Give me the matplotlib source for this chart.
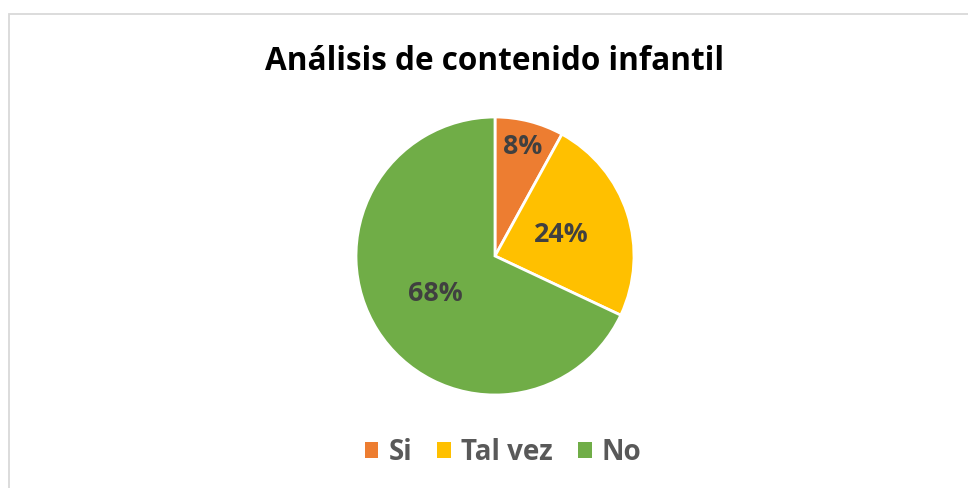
import matplotlib
matplotlib.use("Agg")
import matplotlib.pyplot as plt
from matplotlib.patches import Rectangle, Patch
import numpy as np

categories = ["Si", "Tal vez", "No"]
values = [8, 24, 68]
colors = ["#ED7D31", "#FFC000", "#70AD47"]
label_radius = [0.81, 0.50, 0.51]
title = "Análisis de contenido infantil"

W, H = 968, 488
fig = plt.figure(figsize=(W / 100, H / 100), dpi=100)
fig.patch.set_facecolor("white")

# chart border
fig.add_artist(Rectangle((8.5 / W, -0.1), 1.2, (H - 14.5) / H + 0.1,
                         transform=fig.transFigure, fill=False,
                         edgecolor="#D9D9D9", linewidth=1.3))

cx, cy, r = 495, 256, 139
ax = fig.add_axes([(cx - r) / W, (H - cy - r) / H, 2 * r / W, 2 * r / H])
wedges, _ = ax.pie(values, colors=colors, startangle=90, counterclock=False,
                   wedgeprops=dict(edgecolor="white", linewidth=2),
                   radius=1.0)
ax.set_xlim(-1, 1)
ax.set_ylim(-1, 1)
ax.set_aspect("equal")
ax.axis("off")

for w, v, lr in zip(wedges, values, label_radius):
    ang = np.deg2rad((w.theta1 + w.theta2) / 2)
    ax.text(lr * np.cos(ang), lr * np.sin(ang), f"{v}%", ha="center", va="center",
            fontsize=19.3, fontweight="bold", color="#404040", family="Open Sans")

fig.text(cx / W, 1 - 62 / H, title, ha="center", va="center",
         fontsize=22.7, fontweight="bold", color="black", family="Open Sans")

handles = [Patch(facecolor=c, edgecolor="none") for c in colors]
leg = fig.legend(handles, categories, loc="center", bbox_to_anchor=(503 / W, 1 - 452 / H),
                 ncol=3, frameon=False, handlelength=0.5, handleheight=0.5,
                 handletextpad=0.36, columnspacing=0.9, borderpad=0, borderaxespad=0,
                 prop=dict(family="Open Sans", weight="bold", size=20))
for t in leg.get_texts():
    t.set_color("#595959")

fig.savefig("out.png", dpi=100, facecolor="white")
